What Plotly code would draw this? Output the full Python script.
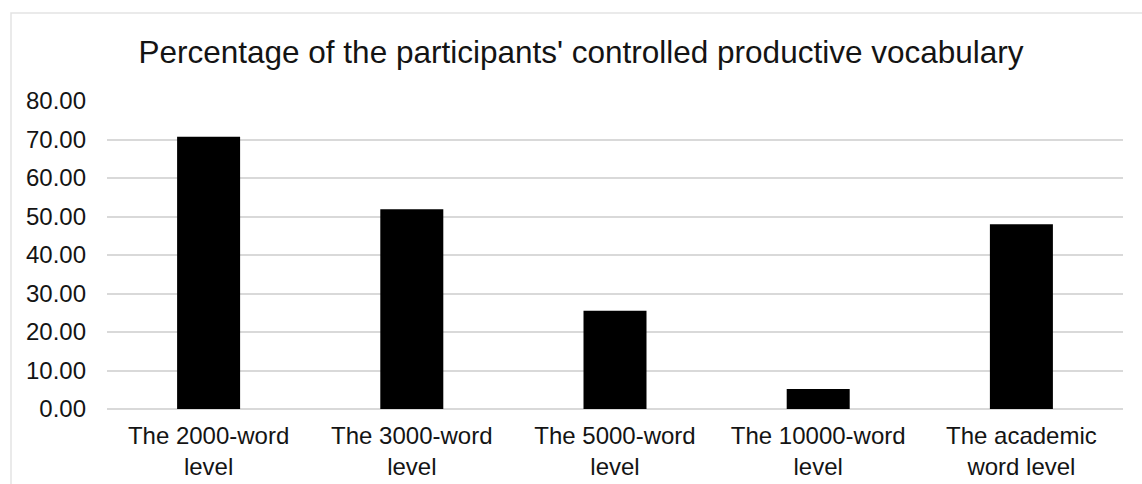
import plotly.graph_objects as go

# Vocabulary level categories and percentage of controlled productive vocabulary
levels = [
    "The 2000-word<br>level",
    "The 3000-word<br>level",
    "The 5000-word<br>level",
    "The 10000-word<br>level",
    "The academic<br>word level",
]
percentages = [70.7, 51.9, 25.5, 5.2, 48.0]
y_ticks = [0, 10, 20, 30, 40, 50, 60, 70, 80]

W, H = 1142, 484
L, R, T, B = 107, 19, 101, 75
plot_w = W - L - R
plot_h = H - T - B

fig = go.Figure(
    go.Bar(
        x=levels,
        y=percentages,
        marker=dict(color="#000000", line=dict(width=0)),
        hoverinfo="x+y",
    )
)

font_family = "Liberation Sans, Arial, sans-serif"
text_color = "#141414"

fig.update_layout(
    width=W,
    height=H,
    margin=dict(l=L, r=R, t=T, b=B, autoexpand=False),
    paper_bgcolor="#ffffff",
    plot_bgcolor="#ffffff",
    bargap=0.69,
    showlegend=False,
    font=dict(family=font_family, color=text_color),
    title=dict(
        text="Percentage of the participants' controlled productive vocabulary",
        font=dict(size=31.5, family=font_family, color=text_color),
        x=581 / W,
        xref="container",
        xanchor="center",
        y=1 - 52 / H,
        yref="container",
        yanchor="middle",
    ),
    xaxis=dict(
        showgrid=False,
        showline=False,
        ticks="",
        tickfont=dict(size=24, color=text_color),
        ticklabelstandoff=10,
        automargin=False,
        fixedrange=True,
    ),
    yaxis=dict(
        range=[0, 80],
        tickvals=y_ticks,
        tickformat=".2f",
        showgrid=True,
        gridcolor="#d9d9d9",
        gridwidth=1.5,
        zeroline=True,
        zerolinecolor="#d9d9d9",
        zerolinewidth=1.5,
        showline=False,
        ticks="",
        tickfont=dict(size=24, color=text_color),
        ticklabelstandoff=20,
        automargin=False,
        fixedrange=True,
    ),
    shapes=[
        dict(
            type="rect",
            xref="paper",
            yref="paper",
            x0=(11 - L) / plot_w,
            x1=(W + 30 - L) / plot_w,
            y0=-0.4,
            y1=(H - B - 13) / plot_h,
            line=dict(color="#e3e3e3", width=1.5),
            fillcolor="rgba(0,0,0,0)",
            layer="below",
        )
    ],
)

fig.write_html("out.html")
